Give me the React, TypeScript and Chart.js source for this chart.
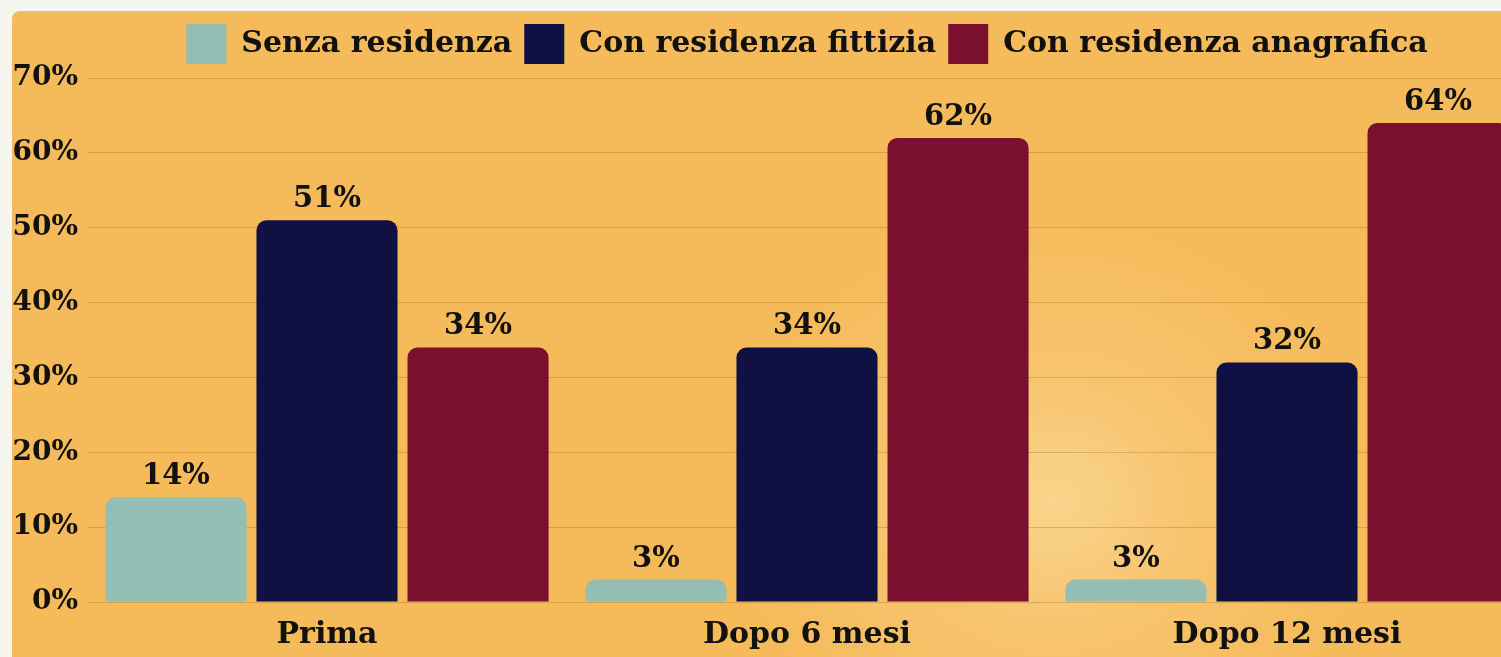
import React, { useEffect, useRef } from 'react';
import { Chart, registerables } from 'chart.js';

Chart.register(...registerables);

const categories = ['Prima', 'Dopo 6 mesi', 'Dopo 12 mesi'];
const seriesNames = ['Senza residenza', 'Con residenza fittizia', 'Con residenza anagrafica'];
const senzaResidenza = [14, 3, 3];
const conResidenzaFittizia = [51, 34, 32];
const conResidenzaAnagrafica = [34, 62, 64];
const yMax = 70;
const yStep = 10;

const seriesColors = ['#94BEB3', '#101142', '#7B0F2E'];
const FONT = "'DejaVu Serif', serif";

const valueLabels = {
  id: 'valueLabels',
  afterDatasetsDraw(chart: any) {
    const ctx = chart.ctx;
    ctx.save();
    ctx.font = `bold 29px ${FONT}`;
    ctx.fillStyle = '#111111';
    ctx.textAlign = 'center';
    ctx.textBaseline = 'alphabetic';
    chart.data.datasets.forEach((ds: any, di: number) => {
      const meta = chart.getDatasetMeta(di);
      meta.data.forEach((el: any, i: number) => {
        ctx.fillText(`${ds.data[i]}%`, el.x, el.y - 13);
      });
    });
    ctx.restore();
  },
};

const centerLegend = {
  id: 'centerLegend',
  afterLayout(chart: any) {
    const lg = chart.legend;
    if (lg) {
      lg.left = chart.chartArea.left;
      lg.right = chart.chartArea.right;
      lg.width = lg.right - lg.left;
      lg.top -= 4;
      lg.bottom -= 4;
    }
  },
};

export default function App() {
  const ref = useRef<HTMLCanvasElement>(null);

  useEffect(() => {
    if (!ref.current) return;
    const chart = new Chart(ref.current, {
      type: 'bar',
      data: {
        labels: categories,
        datasets: [senzaResidenza, conResidenzaFittizia, conResidenzaAnagrafica].map((d, i) => ({
          label: seriesNames[i],
          data: d,
          backgroundColor: seriesColors[i],
          borderWidth: 0,
          borderRadius: { topLeft: 10, topRight: 10, bottomLeft: 0, bottomRight: 0 },
          borderSkipped: 'start',
          categoryPercentage: 0.944,
          barPercentage: 0.934,
        })),
      },
      options: {
        responsive: false,
        animation: false,
        devicePixelRatio: 1,
        layout: { padding: { left: 0, right: 93, top: 16, bottom: 0 } },
        plugins: {
          tooltip: { enabled: false },
          legend: {
            position: 'top',
            align: 'center',
            labels: {
              boxWidth: 40,
              boxHeight: 40,
              padding: 12,
              color: '#111111',
              font: { family: FONT, size: 30, weight: 'bold' },
            },
          },
        },
        scales: {
          x: {
            grid: { display: false },
            border: { display: false },
            ticks: {
              color: '#111111',
              padding: 7,
              font: { family: FONT, size: 30, weight: 'bold' },
            },
            afterFit(scale: any) {
              scale.height = 55;
            },
          },
          y: {
            min: 0,
            max: yMax,
            grid: { color: 'rgba(170,110,30,0.35)', lineWidth: 1, drawTicks: false },
            border: { display: false },
            ticks: {
              stepSize: yStep,
              color: '#111111',
              padding: 9,
              font: { family: FONT, size: 28, weight: 'bold' },
              callback: (v: any) => `${v}%`,
            },
            afterFit(scale: any) {
              scale.width = 87;
            },
          },
        },
      },
      plugins: [valueLabels, centerLegend],
    });
    return () => chart.destroy();
  }, []);

  return (
    <div
      style={{
        position: 'fixed',
        left: 0,
        top: 0,
        width: 1501,
        height: 657,
        overflow: 'hidden',
        background: '#F6F6F1',
      }}
    >
      <div
        style={{
          position: 'absolute',
          left: 12,
          top: 11,
          width: 1620,
          height: 700,
          borderRadius: 8,
          background:
            'radial-gradient(ellipse 340px 300px at 1040px 490px, rgba(249,212,140,1) 0%, rgba(248,203,125,0.55) 45%, rgba(245,187,90,0) 100%), #F5BA59',
        }}
      />
      <canvas
        ref={ref}
        width={1620}
        height={657}
        style={{ position: 'absolute', left: 0, top: 0, width: 1620, height: 657 }}
      />
    </div>
  );
}
